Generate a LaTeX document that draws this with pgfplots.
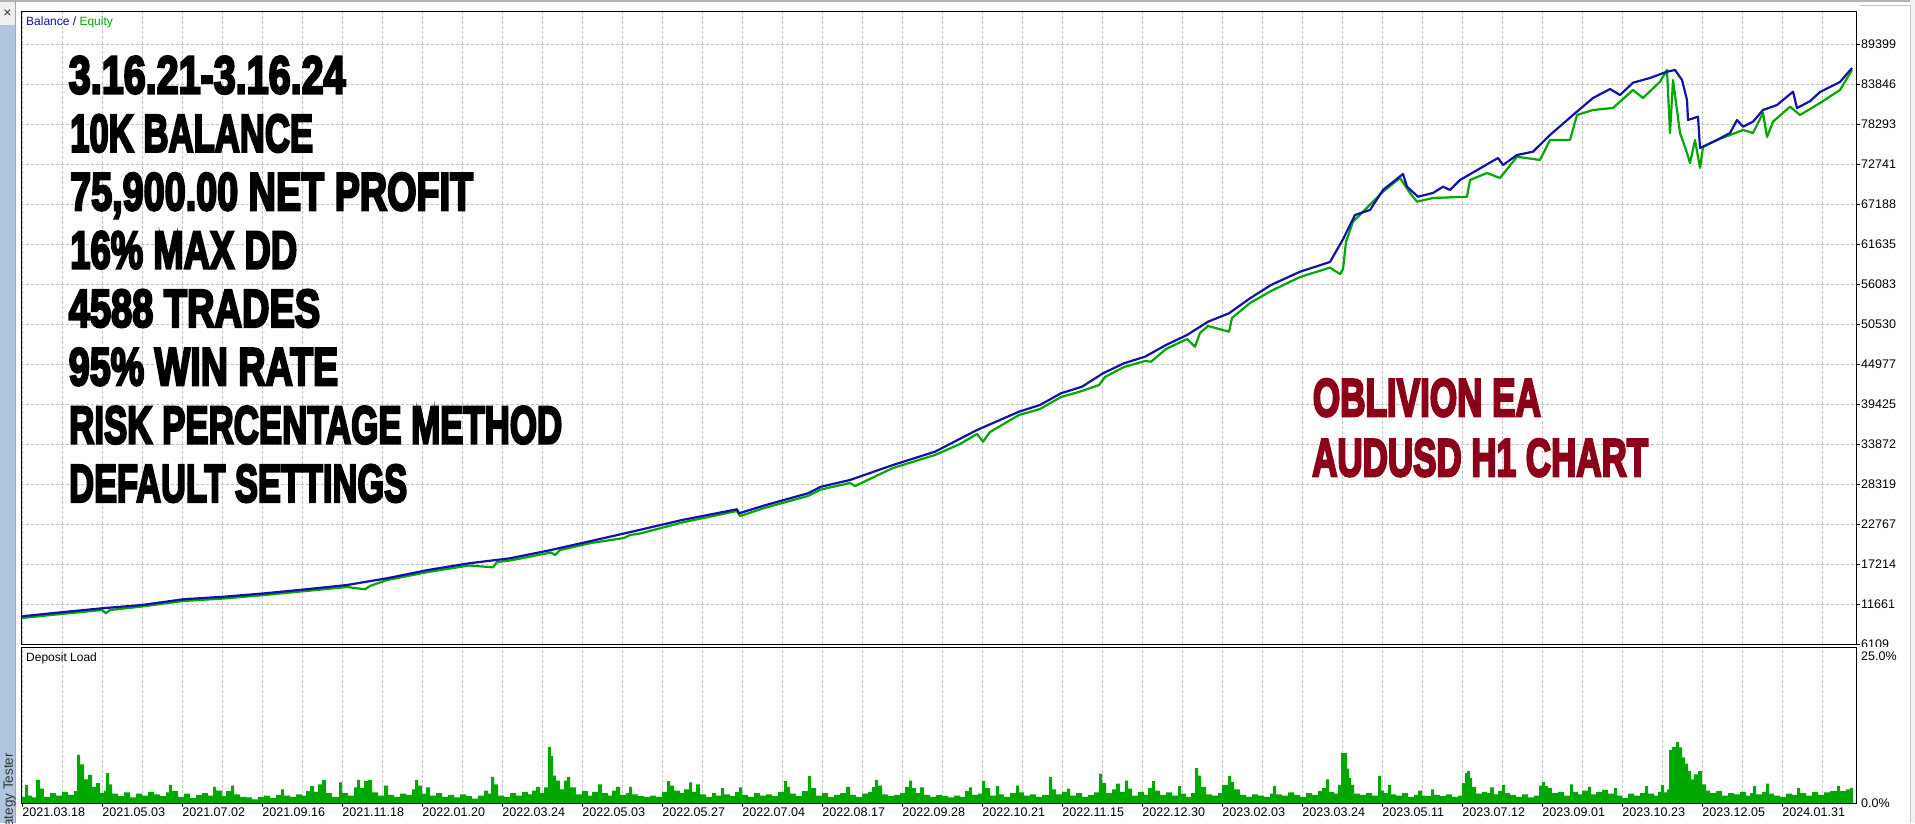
\documentclass[border=0pt]{standalone}
\usepackage{pgfplots}
\pgfplotsset{compat=1.18}
\usepackage{fontspec}
\setmainfont{Liberation Sans}
\newfontfamily\impactfont{Liberation Sans}[FakeBold=5]
\definecolor{balblue}{RGB}{18,18,170}
\definecolor{eqgreen}{RGB}{0,168,0}
\definecolor{gridgray}{RGB}{195,195,195}
\definecolor{darkred}{RGB}{140,0,24}
\definecolor{stripblue}{RGB}{176,198,224}
\newcommand{\bigline}[2]{\resizebox{#1}{\height}{\impactfont\bfseries\fontsize{53}{53}\selectfont #2}}
\newcommand{\tickfont}{\fontsize{12.5}{15}\selectfont}
\begin{document}
\begin{tikzpicture}
\useasboundingbox (0pt,0pt) rectangle (1915pt,823pt);
\fill[white] (0pt,0pt) rectangle (1915pt,823pt);
% window chrome
\fill[gray!12] (0pt,798pt) rectangle (15pt,823pt);
\fill[stripblue] (0pt,0pt) rectangle (15pt,798pt);
\draw[gray!70, line width=1pt] (15.5pt,0pt) -- (15.5pt,823pt);
\draw[gray!60, line width=1.5pt] (0pt,822pt) -- (1915pt,822pt);
\fill[gray!10] (1910pt,0pt) rectangle (1915pt,823pt);
\draw[gray!45, line width=1pt] (1910pt,0pt) -- (1910pt,817pt) -- (1860pt,817pt);
\node[font=\fontsize{14}{14}\selectfont, text=black!80] at (7.5pt,809pt) {×};
\node[rotate=90, anchor=base east, inner sep=0pt, font=\fontsize{13.5}{14}\selectfont, text=black!80] at (13pt,70pt) {Strategy Tester};

\begin{axis}[
  at={(21pt,178.7pt)}, anchor=south west, scale only axis,
  width=1835pt, height=632.3pt,
  xmin=21, xmax=1856, ymin=6109, ymax=93883,
  axis line style={black, line width=1pt},
  xtick={22.7,62.7,102.7,142.7,182.7,222.7,262.7,302.7,342.7,382.7,422.7,462.7,502.7,542.7,582.7,622.7,662.7,702.7,742.7,782.7,822.7,862.7,902.7,942.7,982.7,1022.7,1062.7,1102.7,1142.7,1182.7,1222.7,1262.7,1302.7,1342.7,1382.7,1422.7,1462.7,1502.7,1542.7,1582.7,1622.7,1662.7,1702.7,1742.7,1782.7,1822.7},
  xticklabel=\mbox{}, xtick style={draw=none},
  xmajorgrids, ymajorgrids,
  grid style={gridgray, dash pattern=on 3pt off 2pt, line width=1pt},
  ytick={6109,11661,17214,22767,28319,33872,39425,44977,50530,56083,61635,67188,72741,78293,83846,89399},
  yticklabels={\mbox{6109},\mbox{11661},\mbox{17214},\mbox{22767},\mbox{28319},\mbox{33872},\mbox{39425},\mbox{44977},\mbox{50530},\mbox{56083},\mbox{61635},\mbox{67188},\mbox{72741},\mbox{78293},\mbox{83846},\mbox{89399}},
  ytick pos=right, yticklabel pos=right, tick align=outside, major tick length=4pt,
  ytick style={black, line width=1pt},
  yticklabel style={font=\tickfont, anchor=west, inner sep=0pt, xshift=1pt},
]
\addplot[eqgreen, line width=2.2pt, line join=round] coordinates {
(22,9760)(61,10315)(102,10870)(106,10412)(110,10870)(142,11356)(183,12120)(224,12467)(265,12953)(306,13508)(347,14063)(365,13744)(370,14202)(387,15035)(428,16146)(469,17048)(493,16798)(497,17534)(510,17742)(551,18853)(555,18506)(560,19200)(591,20171)(624,20866)(630,21282)(640,21490)(682,23017)(737,24614)(740,23920)(766,25100)(808,26696)(821,27598)(850,28501)(855,28084)(893,30583)(935,32388)(960,33915)(977,35303)(983,34234)(990,35580)(1019,37940)(1040,38773)(1061,40439)(1082,41272)(1099,42105)(1105,43216)(1124,44604)(1145,45437)(1151,45339)(1166,47103)(1187,48491)(1195,47422)(1200,49324)(1208,50295)(1229,49504)(1232,51406)(1250,53488)(1271,55154)(1300,57098)(1330,58400)(1340,57500)(1343,58200)(1346,62000)(1353,64774)(1383,68939)(1400,70841)(1410,68759)(1417,67551)(1433,68064)(1467,68245)(1470,70563)(1487,71535)(1500,70841)(1517,73798)(1540,73340)(1550,76116)(1570,76116)(1577,79586)(1593,80280)(1613,80558)(1633,83057)(1643,81946)(1660,84209)(1667,85833)(1670,77088)(1673,84445)(1680,77088)(1687,74311)(1690,72923)(1695,76116)(1700,72229)(1703,75144)(1717,76116)(1730,76810)(1743,77504)(1753,77088)(1763,79864)(1767,76532)(1773,78656)(1790,80739)(1800,79586)(1820,81252)(1840,83057)(1852,85833)
};
\addplot[balblue, line width=2.2pt, line join=round] coordinates {
(22,10000)(61,10551)(102,11107)(142,11565)(183,12356)(224,12717)(265,13189)(306,13744)(347,14341)(387,15271)(428,16423)(469,17353)(510,18048)(551,19200)(591,20449)(632,21740)(682,23364)(737,24850)(739,24294)(766,25447)(808,27071)(821,27987)(850,28917)(893,30999)(935,32846)(977,35858)(1019,38399)(1040,39329)(1061,40953)(1082,41869)(1103,43729)(1124,45117)(1145,46034)(1166,47658)(1187,49046)(1208,50892)(1229,52058)(1250,54141)(1271,55987)(1300,57833)(1330,59180)(1343,62331)(1355,65705)(1370,66399)(1383,69175)(1403,71396)(1407,69633)(1418,68245)(1433,68759)(1443,69633)(1450,69175)(1460,70563)(1483,72410)(1498,73617)(1503,72646)(1517,74034)(1533,74492)(1550,76810)(1573,79586)(1593,81946)(1610,83196)(1620,82363)(1633,84070)(1650,84723)(1667,85597)(1675,85833)(1682,84445)(1687,81669)(1688,78892)(1698,79351)(1700,75005)(1717,76116)(1730,77088)(1737,78892)(1743,77962)(1753,78656)(1763,80280)(1777,80975)(1793,82821)(1797,80558)(1810,81500)(1820,82779)(1840,84167)(1852,86111)
};
\end{axis}

\fill[white] (1857pt,21pt) rectangle (1908pt,176pt);

\begin{axis}[
  at={(21pt,20pt)}, anchor=south west, scale only axis,
  width=1835pt, height=156pt,
  xmin=21, xmax=1856, ymin=0, ymax=25,
  axis line style={black, line width=1pt},
  xtick={22.7,102.7,182.7,262.7,342.7,422.7,502.7,582.7,662.7,742.7,822.7,902.7,982.7,1062.7,1142.7,1222.7,1302.7,1382.7,1462.7,1542.7,1622.7,1702.7,1782.7},
  xticklabels={\mbox{2021.03.18},\mbox{2021.05.03},\mbox{2021.07.02},\mbox{2021.09.16},\mbox{2021.11.18},\mbox{2022.01.20},\mbox{2022.03.24},\mbox{2022.05.03},\mbox{2022.05.27},\mbox{2022.07.04},\mbox{2022.08.17},\mbox{2022.09.28},\mbox{2022.10.21},\mbox{2022.11.15},\mbox{2022.12.30},\mbox{2023.02.03},\mbox{2023.03.24},\mbox{2023.05.11},\mbox{2023.07.12},\mbox{2023.09.01},\mbox{2023.10.23},\mbox{2023.12.05},\mbox{2024.01.31}},
  minor xtick={62.7,142.7,222.7,302.7,382.7,462.7,542.7,622.7,702.7,782.7,862.7,942.7,1022.7,1102.7,1182.7,1262.7,1342.7,1422.7,1502.7,1582.7,1662.7,1742.7,1822.7},
  xmajorgrids, xminorgrids,
  grid style={gridgray, dash pattern=on 3pt off 2pt, line width=1pt},
  minor grid style={gridgray, dash pattern=on 3pt off 2pt, line width=1pt},
  xtick pos=left, tick align=outside, major tick length=4pt, minor tick length=0pt,
  xtick style={black, line width=1pt},
  xticklabel style={font=\tickfont, anchor=north west, inner sep=0pt, xshift=-0.5pt, yshift=-1pt},
  ytick={0}, yticklabels={\mbox{0.0\%}},
  ytick pos=right, yticklabel pos=right, ytick style={draw=none},
  yticklabel style={font=\tickfont, anchor=west, inner sep=0pt, xshift=1pt},
  extra y ticks={25}, extra y tick labels={\mbox{25.0\%}},
  extra y tick style={ytick style={draw=none}, yticklabel style={yshift=-9pt}},
]
\addplot[const plot, fill=eqgreen, draw=none] coordinates {
(22,1.0)(25,2.9)(28,1.2)(32,0.9)(36,3.7)(40,2.3)(44,1.0)(50,1.6)(56,1.2)(62,1.8)(68,1.3)(74,1.9)(77,7.7)(80,6.2)(84,3.8)(88,4.5)(92,2.6)(96,3.2)(100,1.6)(104,2.0)(106,4.8)(109,3.0)(112,1.5)(118,1.1)(124,1.7)(130,0.9)(136,1.5)(142,1.2)(148,1.8)(154,1.4)(160,1.1)(166,1.7)(169,2.9)(172,1.9)(178,1.0)(184,1.5)(190,0.8)(196,1.3)(202,1.6)(208,1.2)(213,2.6)(216,2.0)(222,1.1)(226,1.9)(231,2.8)(234,1.4)(240,1.0)(246,0.9)(252,0.6)(258,1.0)(264,1.2)(270,0.8)(276,1.3)(281,2.2)(284,1.2)(290,1.0)(296,1.4)(302,1.2)(306,1.9)(310,2.7)(314,1.8)(318,3.0)(322,3.7)(326,1.6)(332,1.0)(339,3.3)(342,1.6)(348,1.2)(354,2.5)(357,3.7)(360,2.4)(364,3.5)(368,3.7)(372,1.7)(378,1.2)(384,2.8)(388,1.3)(394,1.0)(400,1.5)(406,1.3)(412,2.2)(415,3.7)(418,2.8)(422,1.5)(426,2.5)(430,1.2)(436,1.6)(442,1.0)(448,1.3)(454,0.9)(460,1.4)(466,1.1)(472,0.7)(478,1.2)(484,2.0)(488,1.5)(491,4.2)(494,3.0)(498,1.2)(504,1.0)(510,1.6)(516,1.2)(522,1.8)(528,1.4)(532,2.0)(536,2.6)(540,1.6)(544,2.5)(548,9.0)(551,7.5)(553,4.4)(556,3.6)(560,2.2)(564,3.6)(567,4.2)(570,2.5)(576,1.4)(582,1.9)(588,1.2)(592,1.8)(598,3.0)(602,1.6)(608,1.2)(612,2.0)(616,2.6)(620,1.3)(626,1.6)(629,2.6)(632,1.4)(638,1.1)(644,1.0)(650,1.2)(656,1.0)(662,1.8)(667,3.5)(670,2.8)(674,2.0)(680,1.6)(684,2.2)(689,3.3)(692,1.8)(696,3.0)(700,1.4)(706,1.0)(712,1.6)(716,1.2)(721,2.4)(724,1.4)(730,1.1)(735,1.8)(739,2.5)(742,1.3)(748,1.0)(754,1.6)(760,1.2)(766,1.4)(772,1.1)(778,1.8)(784,3.5)(787,2.6)(790,1.5)(796,1.1)(802,1.9)(808,4.3)(811,2.4)(816,1.2)(822,1.6)(828,1.0)(834,1.3)(840,1.6)(846,2.6)(850,1.3)(856,1.0)(862,1.5)(868,1.8)(872,2.6)(875,3.7)(878,2.8)(882,1.4)(888,1.1)(894,1.3)(900,1.6)(905,2.6)(909,3.6)(912,2.4)(916,1.6)(920,2.5)(924,1.3)(930,1.0)(936,1.3)(942,1.1)(948,0.9)(954,1.2)(960,1.0)(965,1.9)(969,2.5)(972,1.3)(978,1.5)(982,3.5)(985,2.4)(990,1.2)(996,2.7)(999,1.4)(1004,1.0)(1010,1.6)(1016,2.8)(1019,1.7)(1024,1.2)(1030,1.4)(1036,1.0)(1042,1.3)(1049,4.2)(1052,2.2)(1056,1.4)(1062,1.8)(1067,2.3)(1070,1.2)(1076,1.6)(1082,1.0)(1088,1.3)(1094,1.7)(1099,4.7)(1102,3.2)(1106,1.6)(1112,2.2)(1116,3.1)(1120,1.8)(1125,3.6)(1128,2.3)(1132,1.2)(1138,1.8)(1144,1.3)(1148,2.4)(1152,3.5)(1155,2.0)(1160,1.3)(1166,1.7)(1172,1.2)(1178,2.7)(1181,1.5)(1186,1.0)(1191,1.6)(1195,5.6)(1198,4.4)(1201,2.6)(1206,1.4)(1212,1.2)(1218,1.6)(1222,2.9)(1228,4.3)(1231,3.4)(1234,2.2)(1240,1.3)(1246,1.0)(1252,1.4)(1258,1.2)(1264,1.0)(1270,1.5)(1273,2.7)(1276,1.4)(1282,1.2)(1288,1.7)(1294,1.3)(1300,1.0)(1306,1.6)(1312,1.3)(1318,1.9)(1322,2.4)(1326,3.8)(1329,1.8)(1334,1.5)(1338,2.9)(1341,8.0)(1344,8.0)(1347,5.5)(1349,4.0)(1351,2.9)(1354,1.5)(1360,1.3)(1366,1.6)(1372,1.2)(1378,4.3)(1381,2.0)(1384,1.6)(1388,2.9)(1391,1.4)(1396,1.2)(1402,1.6)(1408,1.0)(1414,1.3)(1418,2.0)(1422,1.2)(1426,1.1)(1431,2.2)(1434,1.3)(1440,1.1)(1446,1.4)(1452,1.0)(1458,1.2)(1462,3.2)(1465,4.8)(1467,5.1)(1470,4.0)(1472,2.6)(1476,1.5)(1482,1.8)(1487,1.6)(1490,2.5)(1494,1.4)(1498,1.9)(1502,2.9)(1505,1.6)(1510,1.3)(1516,1.0)(1522,1.4)(1528,0.9)(1534,1.2)(1539,2.8)(1542,3.4)(1545,2.7)(1548,2.4)(1552,1.6)(1558,1.8)(1564,1.2)(1570,3.0)(1573,1.8)(1578,1.4)(1582,2.0)(1588,2.6)(1591,1.4)(1596,1.8)(1602,2.1)(1608,1.5)(1614,2.4)(1617,1.2)(1622,0.8)(1628,1.5)(1634,1.2)(1640,1.6)(1645,2.7)(1648,1.5)(1654,1.2)(1658,1.8)(1661,2.9)(1664,1.7)(1667,2.2)(1669,8.5)(1672,9.0)(1676,9.8)(1679,8.9)(1682,7.3)(1685,6.3)(1688,5.1)(1691,3.8)(1694,4.6)(1698,5.1)(1702,3.0)(1706,2.0)(1710,1.6)(1716,1.9)(1722,1.2)(1728,1.6)(1734,1.4)(1740,1.8)(1746,1.2)(1750,1.6)(1753,2.7)(1756,1.4)(1762,1.8)(1766,3.1)(1769,1.5)(1774,1.2)(1780,1.0)(1786,1.5)(1792,1.3)(1797,2.4)(1800,1.6)(1806,1.2)(1812,1.8)(1818,1.3)(1824,1.7)(1830,1.9)(1837,2.7)(1840,1.9)(1846,2.2)(1850,2.4)(1853,0)
} \closedcycle;
\end{axis}

% labels inside panels
\node[anchor=base west, inner sep=0pt, font=\fontsize{12}{14}\selectfont] at (26pt,797pt) {\textcolor{balblue}{Balance} \textcolor{blue!50!black}{/} \textcolor{eqgreen}{Equity}};
\node[anchor=base west, inner sep=0pt, font=\fontsize{12}{14}\selectfont] at (26pt,161.5pt) {Deposit Load};

% big annotation text
\node[anchor=base west, inner sep=0pt] at (68.6pt,729.7pt) {\bigline{276.8pt}{3.16.21-3.16.24}};
\node[anchor=base west, inner sep=0pt] at (70pt,671.35pt) {\bigline{243pt}{10K BALANCE}};
\node[anchor=base west, inner sep=0pt] at (70pt,613pt) {\bigline{403pt}{75,900.00 NET PROFIT}};
\node[anchor=base west, inner sep=0pt] at (70pt,554.65pt) {\bigline{227pt}{16\% MAX DD}};
\node[anchor=base west, inner sep=0pt] at (68.6pt,496.3pt) {\bigline{251.4pt}{4588 TRADES}};
\node[anchor=base west, inner sep=0pt] at (68.6pt,437.95pt) {\bigline{269.4pt}{95\% WIN RATE}};
\node[anchor=base west, inner sep=0pt] at (69pt,379.6pt) {\bigline{493pt}{RISK PERCENTAGE METHOD}};
\node[anchor=base west, inner sep=0pt] at (69pt,321.25pt) {\bigline{338pt}{DEFAULT SETTINGS}};
\node[anchor=base west, inner sep=0pt, text=darkred] at (1312.7pt,407pt) {\bigline{228pt}{OBLIVION EA}};
\node[anchor=base west, inner sep=0pt, text=darkred] at (1312pt,347pt) {\bigline{336pt}{AUDUSD H1 CHART}};
\end{tikzpicture}
\end{document}
